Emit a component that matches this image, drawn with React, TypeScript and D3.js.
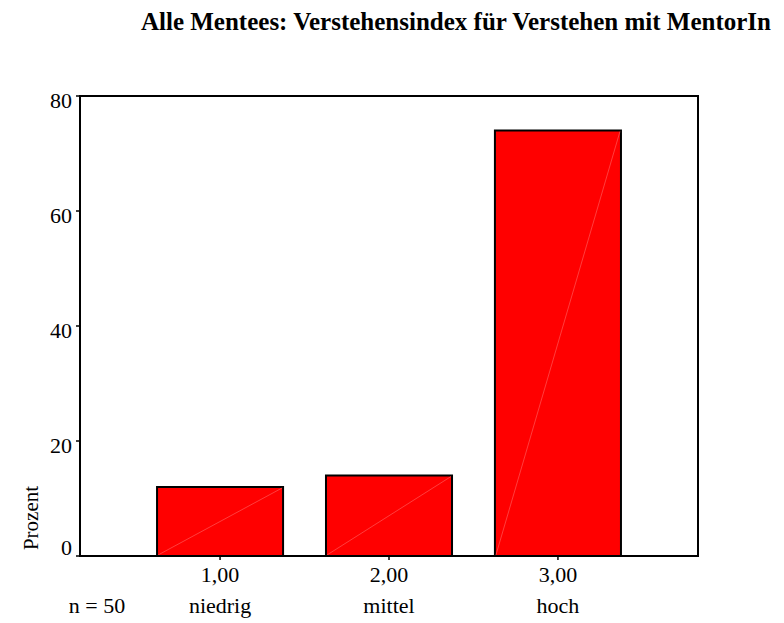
import React from "react";
import * as d3 from "d3";

const categories = ["1,00", "2,00", "3,00"];
const categoryNames = ["niedrig", "mittel", "hoch"];
const percentValues = [12, 14, 74];
const yTicks = [0, 20, 40, 60, 80];
const title = "Alle Mentees: Verstehensindex für Verstehen mit MentorIn";
const yLabel = "Prozent";
const nLabel = "n = 50";

export default function App() {
  const W = 784, H = 623;
  const left = 80, right = 698, top = 96, bottom = 556;
  const x = d3.scaleBand<string>().domain(categories).range([left, right]).paddingInner(0.254).paddingOuter(0.456);
  const y = d3.scaleLinear().domain([0, 80]).range([bottom, top]);
  const font = "'Liberation Serif', 'Times New Roman', serif";
  return (
    <svg width={W} height={H} style={{ position: "absolute", left: 0, top: 0 }} fontFamily={font}>
      <rect width={W} height={H} fill="#fff" />
      <text x={456} y={30} textAnchor="middle" fontWeight="bold" fontSize={25}>{title}</text>
      {categories.map((c, i) => {
        const x0 = x(c)!;
        const bw = x.bandwidth();
        const y0 = y(percentValues[i]);
        return (
          <g key={c}>
            <rect x={x0} y={y0} width={bw} height={bottom - y0} fill="#ff0000" stroke="#000" strokeWidth={2} />
            <line x1={x0 + 1} y1={bottom - 1} x2={x0 + bw - 1} y2={y0 + 1} stroke="#ff6666" strokeWidth={0.6} />
          </g>
        );
      })}
      <rect x={left} y={top} width={right - left} height={bottom - top} fill="none" stroke="#000" strokeWidth={2} />
      {yTicks.map(t => (
        <g key={t}>
          <line x1={left - 4} x2={left} y1={y(t)} y2={y(t)} stroke="#000" strokeWidth={1.5} />
          <text x={left - 8} y={y(t) + (t === 0 ? -1 : 12)} textAnchor="end" fontSize={22}>{t}</text>
        </g>
      ))}
      {categories.map((c, i) => {
        const cx = x(c)! + x.bandwidth() / 2;
        return (
          <g key={c}>
            <line x1={cx} x2={cx} y1={bottom} y2={bottom + 4} stroke="#000" strokeWidth={1.5} />
            <text x={cx} y={582} textAnchor="middle" fontSize={22}>{c}</text>
            <text x={cx} y={613} textAnchor="middle" fontSize={22}>{categoryNames[i]}</text>
          </g>
        );
      })}
      <text x={97} y={613} textAnchor="middle" fontSize={22}>{nLabel}</text>
      <text transform={`translate(38,518) rotate(-90)`} textAnchor="middle" fontSize={21}>{yLabel}</text>
    </svg>
  );
}
